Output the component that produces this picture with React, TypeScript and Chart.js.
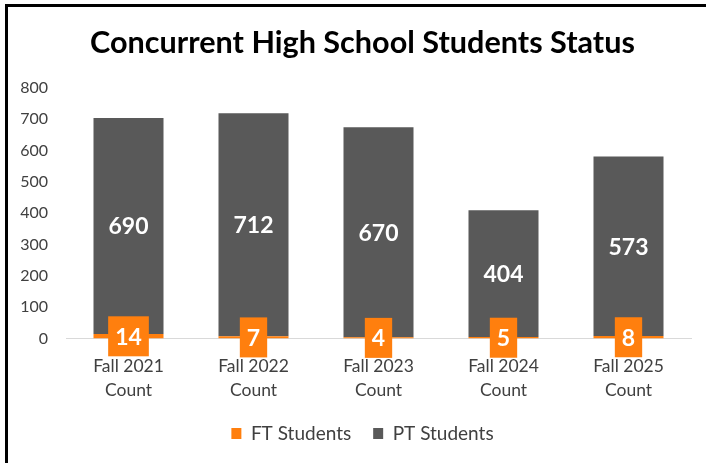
import { useEffect, useRef } from "react";
import { Chart, registerables } from "chart.js";

Chart.register(...registerables);

const categories: string[][] = [
  ["Fall 2021", "Count"],
  ["Fall 2022", "Count"],
  ["Fall 2023", "Count"],
  ["Fall 2024", "Count"],
  ["Fall 2025", "Count"],
];
const ftStudents = [14, 7, 4, 5, 8];
const ptStudents = [690, 712, 670, 404, 573];
const yMin = 0;
const yMax = 800;
const yStep = 100;

const ORANGE = "#FF7F0E";
const GRAY = "#595959";
const FONT = "Lato";

const barLabels = {
  id: "barLabels",
  afterLayout(chart: any) {
    // let the y tick labels extend left of the axis box without being clipped
    if (chart.scales.y) chart.scales.y.left = 0;
  },
  afterDatasetsDraw(chart: any) {
    const ctx = chart.ctx;
    chart.data.datasets.forEach((ds: any, di: number) => {
      const meta = chart.getDatasetMeta(di);
      meta.data.forEach((el: any, i: number) => {
        const v = ds.data[i];
        const { x, y, base } = el.getProps(["x", "y", "base"], true);
        const cy = (y + base) / 2;
        const text = String(v);
        ctx.save();
        ctx.font = `bold 23px ${FONT}`;
        ctx.textAlign = "center";
        ctx.textBaseline = "middle";
        if (di === 0) {
          const w = ctx.measureText(text).width + 14;
          ctx.fillStyle = ORANGE;
          ctx.fillRect(x - w / 2, cy - 20, w, 40);
        }
        ctx.fillStyle = "#FFFFFF";
        ctx.fillText(text, x, cy + 1);
        ctx.restore();
      });
    });
  },
};

export default function App() {
  const ref = useRef<HTMLCanvasElement>(null);
  useEffect(() => {
    if (!ref.current) return;
    const chart = new Chart(ref.current, {
      type: "bar",
      data: {
        labels: categories,
        datasets: [
          {
            label: "FT Students",
            data: ftStudents,
            backgroundColor: ORANGE,
            borderWidth: 0,
          },
          {
            label: "PT Students",
            data: ptStudents,
            backgroundColor: GRAY,
            borderWidth: 0,
          },
        ],
      },
      options: {
        animation: false,
        responsive: true,
        maintainAspectRatio: false,
        layout: { padding: { left: 34, right: 15, top: 0, bottom: 10 } },
        datasets: {
          bar: { categoryPercentage: 1, barPercentage: 0.56 },
        },
        scales: {
          x: {
            stacked: true,
            grid: { display: false, drawTicks: false },
            border: { display: true, color: "#D9D9D9", width: 1 },
            ticks: {
              color: "#404040",
              font: { family: FONT, size: 17.5, lineHeight: 1.37 },
              padding: 16,
              maxRotation: 0,
            },
            afterFit: (s: any) => {
              s.height = 63.5;
            },
          },
          y: {
            stacked: true,
            min: yMin,
            max: yMax,
            grid: { display: false, drawTicks: false },
            border: { display: false },
            ticks: {
              stepSize: yStep,
              color: "#404040",
              font: { family: FONT, size: 16 },
              padding: 18,
            },
            afterFit: (s: any) => {
              s.width = 32;
            },
          },
        },
        plugins: {
          title: {
            display: true,
            text: "Concurrent High School Students Status",
            color: "#000000",
            font: { family: FONT, size: 30.6, weight: "bold", lineHeight: 1.2 },
            padding: { top: 24.5, bottom: 26.6 },
          },
          legend: {
            position: "bottom",
            labels: {
              boxWidth: 10,
              boxHeight: 11,
              color: "#404040",
              font: { family: FONT, size: 19 },
              padding: 22,
            },
          },
          tooltip: { enabled: false },
        },
      },
      plugins: [barLabels],
    });
    return () => chart.destroy();
  }, []);

  return (
    <div
      style={{
        position: "fixed",
        left: 0,
        top: 0,
        width: 706,
        height: 463,
        background: "#FFFFFF",
        overflow: "hidden",
      }}
    >
      <div
        style={{
          position: "absolute",
          left: 5,
          top: 4,
          width: 800,
          height: 600,
          borderLeft: "3px solid #000",
          borderTop: "3px solid #000",
        }}
      />
      <div style={{ position: "absolute", left: 0, top: 0, width: 706, height: 463 }}>
        <canvas ref={ref} />
      </div>
    </div>
  );
}
